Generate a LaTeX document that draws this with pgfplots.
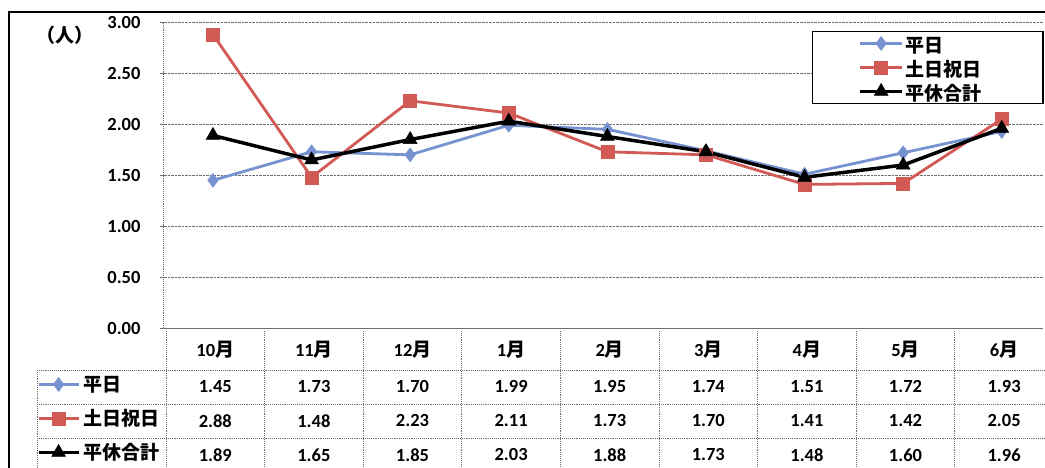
\documentclass[border=0pt]{standalone}
\usepackage{pgfplots}
\usepackage{pgfplotstable}
\pgfplotsset{compat=1.18}
\usepackage{fontspec}
\setmainfont{Carlito}
\newfontfamily\cjk{Noto Sans CJK JP}
\definecolor{cblue}{RGB}{118,146,208}
\definecolor{cred}{RGB}{210,90,84}
\definecolor{gridc}{RGB}{110,110,110}
\newcommand{\fs}{\fontsize{18.5bp}{20bp}\selectfont\bfseries}
\newcommand{\fj}{\cjk\fontsize{19bp}{20bp}\selectfont\bfseries}
\pgfplotstableread{
x weekday holiday total
0 1.45 2.88 1.89
1 1.73 1.48 1.65
2 1.70 2.23 1.85
3 1.99 2.11 2.03
4 1.95 1.73 1.88
5 1.74 1.70 1.73
6 1.51 1.41 1.48
7 1.72 1.42 1.60
8 1.93 2.05 1.96
}\data
\pgfplotsset{
  sblue/.style={cblue, line width=2.8bp, mark=diamond*, mark size=7bp, mark options={fill=cblue, draw=cblue, line width=0.5bp}},
  sred/.style={cred, line width=2.8bp, mark=square*, mark size=6.5bp, mark options={fill=cred, draw=cred, line width=0.5bp}},
  sblack/.style={black, line width=3.5bp, mark=triangle*, mark size=8bp, mark options={fill=black, draw=black, line width=0.5bp}},
}
\begin{document}
\begin{tikzpicture}[x=1bp,y=1bp]
\useasboundingbox (0,0) rectangle (1045,468);
\clip (0,0) rectangle (1045,468);
\fill[white] (0,0) rectangle (1045,468);
\begin{axis}[
  scale only axis, width=879bp, height=306bp,
  at={(166,137)}, anchor=south west,
  xmin=-0.5, xmax=8.415, ymin=0, ymax=3,
  clip=false,
  axis x line*=bottom, axis y line*=left,
  x axis line style={gridc, line width=0.9bp},
  y axis line style={gridc, densely dotted, line width=1.1bp},
  xtick=\empty,
  ytick={0,0.5,...,3.0},
  tick align=outside, major tick length=4bp,
  y tick style={gridc, line width=0.9bp, solid},
  ymajorgrids, major grid style={gridc, densely dotted, line width=0.9bp},
  yticklabel style={font=\fs, inner sep=0pt, anchor=east, xshift=-19bp},
  /pgf/number format/.cd, fixed, fixed zerofill, precision=2, assume math mode=true, /pgfplots/.cd,
  legend style={at={(0.738,0.97)}, anchor=north west, draw=black, line width=1.3bp,
    inner xsep=46bp, inner ysep=0pt, outer sep=0pt, row sep=0pt, font=\fj,
    nodes={inner ysep=0pt, inner xsep=2bp, text height=21bp, text depth=3bp}},
  legend cell align=left,
  legend image code/.code={\draw[mark repeat=2,mark phase=2] plot coordinates {(0bp,0bp)(21bp,0bp)(42bp,0bp)};},
]
\addplot[sblue] table[x=x, y=weekday] {\data};
\addlegendentry{\makebox[89bp][l]{平日}}
\addplot[sred] table[x=x, y=holiday] {\data};
\addlegendentry{\makebox[89bp][l]{土日祝日}}
\addplot[sblack] table[x=x, y=total] {\data};
\addlegendentry{\makebox[89bp][l]{平休合計}}
\end{axis}
% legend keys of the data table
\begin{axis}[
  scale only axis, width=879bp, height=306bp,
  at={(166,137)}, anchor=south west,
  xmin=-0.5, xmax=8.415, ymin=0, ymax=3,
  hide axis,
  legend style={at={(-0.1445,-0.1275)}, anchor=north west, draw=none, fill=none,
    inner sep=0pt, row sep=0pt, font=\fj, nodes={inner ysep=0pt, inner xsep=3bp, text height=24bp, text depth=10bp}},
  legend cell align=left,
  legend image code/.code={\draw[mark repeat=2,mark phase=2] plot coordinates {(0bp,0bp)(20bp,0bp)(40bp,0bp)};},
]
\addlegendimage{sblue}
\addlegendentry{平日}
\addlegendimage{sred}
\addlegendentry{土日祝日}
\addlegendimage{sblack}
\addlegendentry{平休合計}
\end{axis}
% data table grid
\begin{scope}[gridc, densely dotted, line width=0.9bp]
  \foreach \yy in {98,64,30} \draw (37,\yy) -- (1045,\yy);
  \draw (37,98) -- (37,0);
  \foreach \k in {0,...,8} \draw ({166+98.6*\k},137) -- ({166+98.6*\k},0);
\end{scope}
% header row
\foreach \lab [count=\i from 0] in {10,11,12,1,2,3,4,5,6}
  \node[font=\fs] at ({215.3+98.6*\i},118) {\lab{\fj 月}};
\foreach \v [count=\i from 0] in {1.45,1.73,1.70,1.99,1.95,1.74,1.51,1.72,1.93}
  \node[font=\fs] at ({215.3+98.6*\i},81) {\v};
\foreach \v [count=\i from 0] in {2.88,1.48,2.23,2.11,1.73,1.70,1.41,1.42,2.05}
  \node[font=\fs] at ({215.3+98.6*\i},47) {\v};
\foreach \v [count=\i from 0] in {1.89,1.65,1.85,2.03,1.88,1.73,1.48,1.60,1.96}
  \node[font=\fs] at ({215.3+98.6*\i},13) {\v};
% unit label
\node[font=\fj] at (65,433) {（人）};
% outer frame
\draw[black, line width=1.8bp] (9,-5) -- (9,456) -- (1050,456);
\end{tikzpicture}
\end{document}
